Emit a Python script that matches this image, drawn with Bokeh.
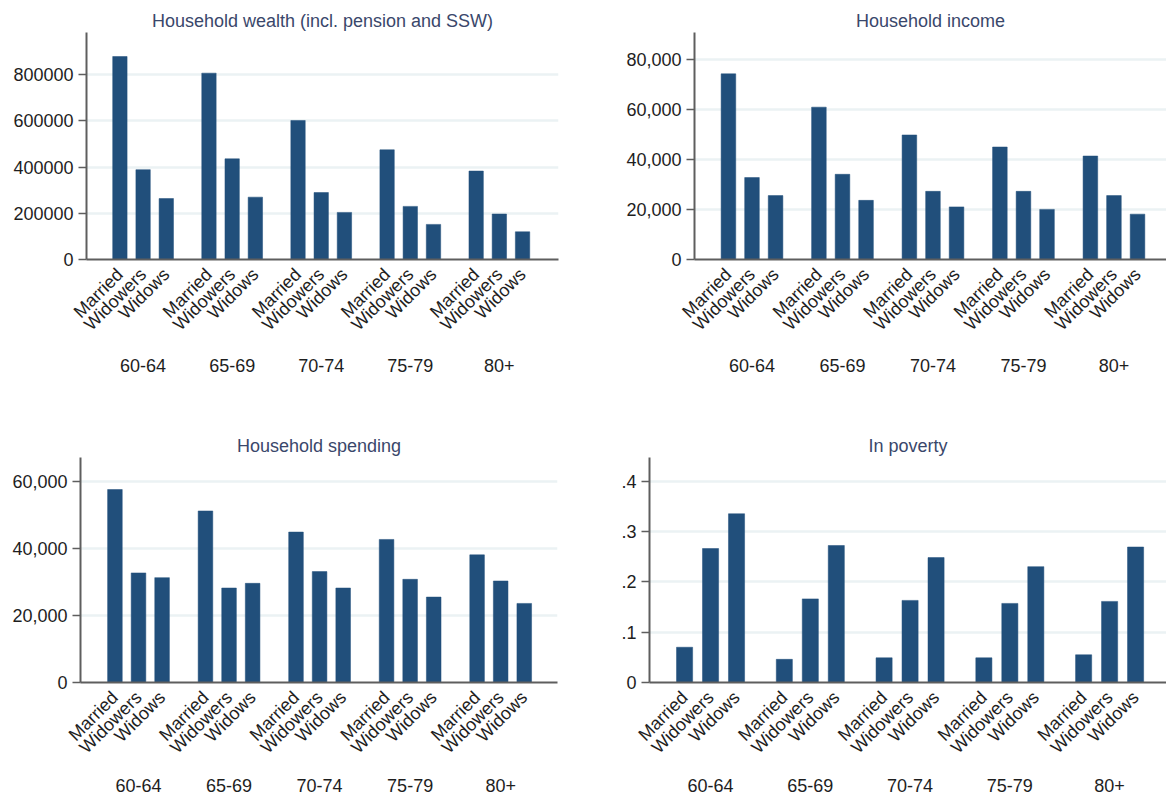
import math
from bokeh.plotting import figure
from bokeh.models import Range1d, FixedTicker, LinearAxis, NumeralTickFormatter
from bokeh.layouts import column, row
from bokeh.embed import file_html
from bokeh.resources import INLINE

# ---------------- data ----------------
age_groups = ["60-64", "65-69", "70-74", "75-79", "80+"]
statuses = ["Married", "Widowers", "Widows"]

wealth_married = [879000, 807000, 602000, 475000, 383000]
wealth_widowers = [389000, 436000, 290000, 230000, 197000]
wealth_widows = [264000, 270000, 204000, 152000, 120000]

income_married = [74100, 60800, 49700, 44900, 41300]
income_widowers = [32700, 34000, 27200, 27200, 25500]
income_widows = [25500, 23600, 21000, 20000, 18100]

spending_married = [57600, 51200, 44900, 42700, 38100]
spending_widowers = [32700, 28200, 33100, 30800, 30300]
spending_widows = [31300, 29600, 28200, 25500, 23600]

poverty_married = [0.070, 0.046, 0.049, 0.049, 0.055]
poverty_widowers = [0.266, 0.166, 0.163, 0.157, 0.161]
poverty_widows = [0.335, 0.272, 0.248, 0.230, 0.269]

wealth_ticks = [0, 200000, 400000, 600000, 800000]
income_ticks = [0, 20000, 40000, 60000, 80000]
spending_ticks = [0, 20000, 40000, 60000]
poverty_ticks = [0, 0.1, 0.2, 0.3, 0.4]
poverty_tick_labels = ["0", ".1", ".2", ".3", ".4"]

# ---------------- style / layout ----------------
GROUP_STEP = 384
BAR_STEP = 100
BAR_W = 62
FONT = "Liberation Sans"
FS = "18px"
BAR_COLOR = "#214f7b"
TITLE_COLOR = "#3a476b"
TEXT_COLOR = "#1e1e1e"
AXIS_COLOR = "#5e5e5e"
GRID_COLOR = "#ebf2f4"


def panel(title, married, widowers, widows, y_end, y_ticks, fmt, overrides,
          x_start, x_end, fw, fh, bl, br, bt, bb, group_standoff):
    xs, tops, labels = [], [], {}
    series = [married, widowers, widows]
    for g in range(len(age_groups)):
        for s in range(len(statuses)):
            x = g * GROUP_STEP + s * BAR_STEP
            xs.append(x)
            tops.append(series[s][g])
            labels[x] = statuses[s]
    centers = {g * GROUP_STEP + BAR_STEP: age_groups[g] for g in range(len(age_groups))}

    p = figure(frame_width=fw, frame_height=fh,
               min_border_left=bl, min_border_right=br,
               min_border_top=bt, min_border_bottom=bb,
               x_range=Range1d(x_start, x_end), y_range=Range1d(0, y_end),
               output_backend="svg", toolbar_location=None, title=title,
               background_fill_color="white", border_fill_color="white")
    p.outline_line_color = None

    p.title.align = "center"
    p.title.text_font = FONT
    p.title.text_font_size = FS
    p.title.text_font_style = "normal"
    p.title.text_color = TITLE_COLOR
    p.title.standoff = 4

    p.vbar(x=xs, top=tops, bottom=0, width=BAR_W,
           fill_color=BAR_COLOR, line_color=BAR_COLOR, line_width=0.5)

    # y axis
    ya = p.yaxis[0]
    ya.ticker = FixedTicker(ticks=y_ticks)
    if fmt is not None:
        ya.formatter = NumeralTickFormatter(format=fmt)
    if overrides is not None:
        ya.major_label_overrides = overrides
    ya.major_tick_out = 8
    ya.major_tick_in = 0
    ya.minor_tick_line_color = None
    ya.major_tick_line_color = AXIS_COLOR
    ya.major_tick_line_width = 1.5
    ya.axis_line_color = AXIS_COLOR
    ya.axis_line_width = 2
    ya.major_label_text_font = FONT
    ya.major_label_text_font_size = FS
    ya.major_label_text_color = TEXT_COLOR
    ya.major_label_standoff = 5

    p.ygrid.ticker = FixedTicker(ticks=[t for t in y_ticks if t != 0])
    p.ygrid.grid_line_color = GRID_COLOR
    p.ygrid.grid_line_width = 2.5
    p.xgrid.visible = False

    # x axis with rotated status labels
    xa = p.xaxis[0]
    xa.ticker = FixedTicker(ticks=xs)
    xa.major_label_overrides = labels
    xa.major_label_orientation = math.pi / 4
    xa.major_tick_line_color = None
    xa.minor_tick_line_color = None
    xa.axis_line_color = AXIS_COLOR
    xa.axis_line_width = 2
    xa.major_label_text_font = FONT
    xa.major_label_text_font_size = FS
    xa.major_label_text_color = TEXT_COLOR
    xa.major_label_standoff = 6

    # group labels axis
    ga = LinearAxis(ticker=FixedTicker(ticks=list(centers.keys())),
                    major_label_overrides=centers)
    ga.axis_line_color = None
    ga.major_tick_line_color = None
    ga.minor_tick_line_color = None
    ga.major_label_text_font = FONT
    ga.major_label_text_font_size = FS
    ga.major_label_text_color = TEXT_COLOR
    ga.major_label_standoff = group_standoff
    p.add_layout(ga, "below")
    return p


p1 = panel("Household wealth (incl. pension and SSW)",
           wealth_married, wealth_widowers, wealth_widows,
           983000, wealth_ticks, "0", None,
           -144, 1891, 472, 227, 86, 42, 32, 161, 8)
p2 = panel("Household income",
           income_married, income_widowers, income_widows,
           90600, income_ticks, "0,0", None,
           -144, 1859, 472, 227, 94, 0, 32, 161, 8)
p3 = panel("Household spending",
           spending_married, spending_widowers, spending_widows,
           67160, spending_ticks, "0,0", None,
           -146, 1877, 477, 225, 80, 43, 37, 117, 5)
p4 = panel("In poverty",
           poverty_married, poverty_widowers, poverty_widows,
           0.4467, poverty_ticks, None, dict(zip(poverty_ticks, poverty_tick_labels)),
           -135, 1855, 517, 225, 49, 0, 37, 117, 5)

layout = column(row(p1, p2, spacing=0), row(p3, p4, spacing=0), spacing=0)

with open("out.html", "w") as f:
    f.write(file_html(layout, INLINE))
